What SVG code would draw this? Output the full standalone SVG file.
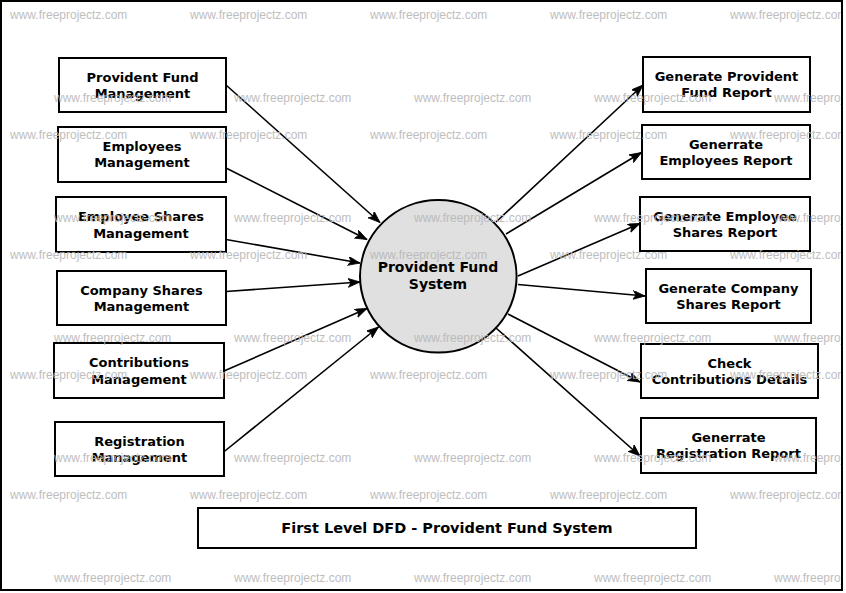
<svg xmlns="http://www.w3.org/2000/svg" width="846" height="593" viewBox="0 0 846 593">
<defs>
<style>
.box{fill:#fff;stroke:#000;stroke-width:2}
.lbl{font-family:"DejaVu Sans",Verdana,sans-serif;font-weight:bold;font-size:13px;fill:#000;text-anchor:middle}
.big{font-size:14px}
.ttl{font-family:"DejaVu Sans",Verdana,sans-serif;font-weight:bold;font-size:14.5px;fill:#000;text-anchor:middle}
.flow{fill:none;stroke:#000;stroke-width:1.6;marker-end:url(#arr)}
.wm{font-family:"Liberation Sans",Arial,sans-serif;font-size:12px;fill:#b8b8b8;opacity:0.9}
</style>
<marker id="arr" markerUnits="userSpaceOnUse" markerWidth="13" markerHeight="10" refX="12" refY="4.5" orient="auto" viewBox="0 0 13 10">
<path d="M0,0 L12,4.5 L0,9 L3,4.5 z" fill="#000" stroke="#000" stroke-width="0.8"/>
</marker>
</defs>
<rect x="0" y="0" width="846" height="593" fill="#fff"/>
<rect x="1" y="1" width="841" height="589" fill="#fff" stroke="#000" stroke-width="2"/>

<g id="connectors">
<line class="flow" x1="226" y1="85" x2="380" y2="222.5"/>
<line class="flow" x1="226" y1="168" x2="367" y2="239.5"/>
<line class="flow" x1="226" y1="239.5" x2="360" y2="263"/>
<line class="flow" x1="226" y1="291.5" x2="360" y2="282"/>
<line class="flow" x1="224" y1="371" x2="367" y2="308.5"/>
<line class="flow" x1="223" y1="452.5" x2="378.5" y2="327"/>
<line class="flow" x1="496" y1="222" x2="643" y2="85"/>
<line class="flow" x1="506" y1="234" x2="641.5" y2="152.5"/>
<line class="flow" x1="518" y1="276" x2="640" y2="223.5"/>
<line class="flow" x1="518" y1="284.5" x2="645" y2="296"/>
<line class="flow" x1="508" y1="314" x2="640" y2="382"/>
<line class="flow" x1="496" y1="328" x2="640" y2="456"/>
</g>

<g id="process">
<ellipse cx="438.3" cy="276.3" rx="78.3" ry="76.3" fill="#e0e0e0" stroke="#000" stroke-width="2"/>
<text class="lbl big" x="438" y="272">Provident Fund</text>
<text class="lbl big" x="438" y="289">System</text>
</g>

<g id="pf-management">
<rect class="box" x="59" y="58" width="167" height="54"/>
<text class="lbl" x="142.5" y="81.5">Provident Fund</text>
<text class="lbl" x="142.5" y="97.5">Management</text>
</g>
<g id="employees-management">
<rect class="box" x="58" y="127" width="168" height="55"/>
<text class="lbl" x="142" y="151">Employees</text>
<text class="lbl" x="142" y="167">Management</text>
</g>
<g id="employee-shares-management">
<rect class="box" x="56" y="197" width="170" height="55"/>
<text class="lbl" x="141" y="221">Employee Shares</text>
<text class="lbl" x="141" y="237.5">Management</text>
</g>
<g id="company-shares-management">
<rect class="box" x="57" y="271" width="169" height="54"/>
<text class="lbl" x="141.5" y="295">Company Shares</text>
<text class="lbl" x="141.5" y="311">Management</text>
</g>
<g id="contributions-management">
<rect class="box" x="54" y="343" width="170" height="55"/>
<text class="lbl" x="139" y="367">Contributions</text>
<text class="lbl" x="139" y="383.5">Management</text>
</g>
<g id="registration-management">
<rect class="box" x="55" y="422" width="169" height="54"/>
<text class="lbl" x="139.5" y="446">Registration</text>
<text class="lbl" x="139.5" y="462">Management</text>
</g>

<g id="pf-report">
<rect class="box" x="643" y="57" width="167" height="55"/>
<text class="lbl" x="726.5" y="81">Generate Provident</text>
<text class="lbl" x="726.5" y="97">Fund Report</text>
</g>
<g id="employees-report">
<rect class="box" x="642" y="125" width="168" height="54"/>
<text class="lbl" x="726" y="149">Generrate</text>
<text class="lbl" x="726" y="165">Employees Report</text>
</g>
<g id="employee-shares-report">
<rect class="box" x="640" y="197" width="170" height="54"/>
<text class="lbl" x="725" y="221">Generate Employee</text>
<text class="lbl" x="725" y="237">Shares Report</text>
</g>
<g id="company-shares-report">
<rect class="box" x="646" y="269" width="165" height="54"/>
<text class="lbl" x="728.5" y="293">Generate Company</text>
<text class="lbl" x="728.5" y="309">Shares Report</text>
</g>
<g id="contributions-details">
<rect class="box" x="641" y="344" width="177" height="54"/>
<text class="lbl" x="729.5" y="368">Check</text>
<text class="lbl" x="729.5" y="384">Contributions Details</text>
</g>
<g id="registration-report">
<rect class="box" x="641" y="418" width="175" height="55"/>
<text class="lbl" x="728.5" y="442">Generrate</text>
<text class="lbl" x="728.5" y="458">Registration Report</text>
</g>

<g id="title">
<rect class="box" x="198" y="508" width="498" height="40"/>
<text class="ttl" x="447" y="533">First Level DFD - Provident Fund System</text>
</g>

<g id="watermarks">
<text class="wm" x="10" y="19">www.freeprojectz.com</text>
<text class="wm" x="190" y="19">www.freeprojectz.com</text>
<text class="wm" x="370" y="19">www.freeprojectz.com</text>
<text class="wm" x="550" y="19">www.freeprojectz.com</text>
<text class="wm" x="730" y="19">www.freeprojectz.com</text>
<text class="wm" x="54" y="102">www.freeprojectz.com</text>
<text class="wm" x="234" y="102">www.freeprojectz.com</text>
<text class="wm" x="414" y="102">www.freeprojectz.com</text>
<text class="wm" x="594" y="102">www.freeprojectz.com</text>
<text class="wm" x="774" y="102">www.freeprojectz.com</text>
<text class="wm" x="10" y="139">www.freeprojectz.com</text>
<text class="wm" x="190" y="139">www.freeprojectz.com</text>
<text class="wm" x="370" y="139">www.freeprojectz.com</text>
<text class="wm" x="550" y="139">www.freeprojectz.com</text>
<text class="wm" x="730" y="139">www.freeprojectz.com</text>
<text class="wm" x="54" y="222">www.freeprojectz.com</text>
<text class="wm" x="234" y="222">www.freeprojectz.com</text>
<text class="wm" x="414" y="222">www.freeprojectz.com</text>
<text class="wm" x="594" y="222">www.freeprojectz.com</text>
<text class="wm" x="774" y="222">www.freeprojectz.com</text>
<text class="wm" x="10" y="259">www.freeprojectz.com</text>
<text class="wm" x="190" y="259">www.freeprojectz.com</text>
<text class="wm" x="370" y="259">www.freeprojectz.com</text>
<text class="wm" x="550" y="259">www.freeprojectz.com</text>
<text class="wm" x="730" y="259">www.freeprojectz.com</text>
<text class="wm" x="54" y="342">www.freeprojectz.com</text>
<text class="wm" x="234" y="342">www.freeprojectz.com</text>
<text class="wm" x="414" y="342">www.freeprojectz.com</text>
<text class="wm" x="594" y="342">www.freeprojectz.com</text>
<text class="wm" x="774" y="342">www.freeprojectz.com</text>
<text class="wm" x="10" y="379">www.freeprojectz.com</text>
<text class="wm" x="190" y="379">www.freeprojectz.com</text>
<text class="wm" x="370" y="379">www.freeprojectz.com</text>
<text class="wm" x="550" y="379">www.freeprojectz.com</text>
<text class="wm" x="730" y="379">www.freeprojectz.com</text>
<text class="wm" x="54" y="462">www.freeprojectz.com</text>
<text class="wm" x="234" y="462">www.freeprojectz.com</text>
<text class="wm" x="414" y="462">www.freeprojectz.com</text>
<text class="wm" x="594" y="462">www.freeprojectz.com</text>
<text class="wm" x="774" y="462">www.freeprojectz.com</text>
<text class="wm" x="10" y="499">www.freeprojectz.com</text>
<text class="wm" x="190" y="499">www.freeprojectz.com</text>
<text class="wm" x="370" y="499">www.freeprojectz.com</text>
<text class="wm" x="550" y="499">www.freeprojectz.com</text>
<text class="wm" x="730" y="499">www.freeprojectz.com</text>
<text class="wm" x="54" y="582">www.freeprojectz.com</text>
<text class="wm" x="234" y="582">www.freeprojectz.com</text>
<text class="wm" x="414" y="582">www.freeprojectz.com</text>
<text class="wm" x="594" y="582">www.freeprojectz.com</text>
<text class="wm" x="774" y="582">www.freeprojectz.com</text>
</g>
<rect x="843" y="0" width="3" height="593" fill="#fff"/>
<line x1="842" y1="0" x2="842" y2="591" stroke="#000" stroke-width="2"/>
</svg>
